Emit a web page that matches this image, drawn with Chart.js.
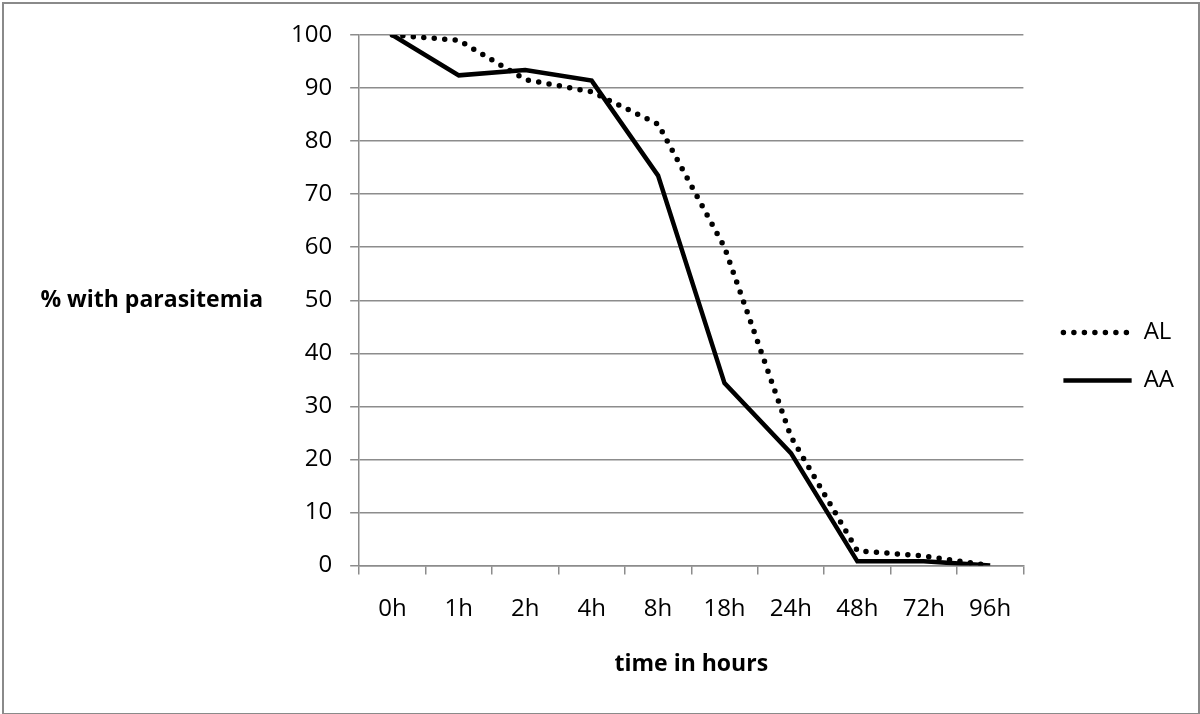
<!DOCTYPE html>
<html>
<head>
<meta charset="utf-8">
<script src="https://cdn.jsdelivr.net/npm/chart.js@4"></script>
<style>
  body { margin: 0; background: #fff; }
  #wrap { position: relative; width: 1200px; height: 714px; }
  #frame { position: absolute; left: 2px; top: 2px; width: 1194px; height: 709px;
           border: 2px solid #8a8a8a; pointer-events: none; }
</style>
</head>
<body>
<div id="wrap">
  <canvas id="c" width="1200" height="714"></canvas>
  <div id="frame"></div>
</div>
<script>
// data
const hours = ['0h', '1h', '2h', '4h', '8h', '18h', '24h', '48h', '72h', '96h'];
const alValues = [100, 99, 91.6, 89.3, 83.2, 60, 24.3, 2.8, 1.8, 0];
const aaValues = [100, 92.4, 93.4, 91.4, 73.5, 34.4, 21.2, 0.8, 0.8, 0];

const yTitle = '% with parasitemia';
const xTitle = 'time in hours';
const FONT = "'Open Sans', sans-serif";
const GRID = '#8c8c8c';
const DOT_GAP = 10.5;

// y axis title is horizontal in the original, so draw it by hand
const yTitlePlugin = {
    id: 'yTitle',
    afterDraw(chart) {
        const ctx = chart.ctx;
        const area = chart.chartArea;
        ctx.save();
        ctx.font = 'bold 23px ' + FONT;
        ctx.fillStyle = '#000';
        ctx.textAlign = 'right';
        ctx.textBaseline = 'middle';
        ctx.fillText(yTitle, area.left - 96, (area.top + area.bottom) / 2);
        ctx.restore();
    }
};

new Chart(document.getElementById('c'), {
    type: 'line',
    data: {
        labels: hours,
        datasets: [
            {
                label: 'AL',
                data: alValues,
                borderColor: '#000',
                backgroundColor: 'rgba(0,0,0,0)',
                borderWidth: 5.5,
                borderDash: [0, DOT_GAP],
                borderCapStyle: 'round',
                pointRadius: 0,
                tension: 0,
                order: 1
            },
            {
                label: 'AA',
                data: aaValues,
                borderColor: '#000',
                backgroundColor: 'rgba(0,0,0,0)',
                borderWidth: 4.5,
                borderCapStyle: 'butt',
                pointRadius: 0,
                tension: 0,
                order: 0
            }
        ]
    },
    options: {
        responsive: false,
        animation: false,
        devicePixelRatio: 1,
        layout: { padding: { left: 273, top: 35, right: 16, bottom: 36 } },
        plugins: {
            tooltip: { enabled: false },
            legend: {
                position: 'right',
                labels: {
                    // zero-height box = a line sample; width is a whole number of half dot periods
                    boxWidth: DOT_GAP * 6.5,
                    boxHeight: 0,
                    padding: 24,
                    color: '#000',
                    font: { family: FONT, size: 24 },
                    sort: (a, b) => a.datasetIndex - b.datasetIndex
                }
            }
        },
        scales: {
            x: {
                offset: true,
                grid: {
                    offset: true,
                    drawOnChartArea: false,
                    tickLength: 9,
                    tickColor: GRID,
                    lineWidth: 1.5
                },
                border: { color: GRID, width: 1.5 },
                ticks: {
                    color: '#000',
                    padding: 20,
                    maxRotation: 0,
                    font: { family: FONT, size: 24 }
                },
                title: {
                    display: true,
                    text: xTitle,
                    color: '#000',
                    font: { family: FONT, size: 23, weight: 'bold' },
                    padding: { top: 7, bottom: 0 }
                }
            },
            y: {
                min: 0,
                max: 100,
                ticks: {
                    stepSize: 10,
                    color: '#000',
                    padding: 18,
                    font: { family: FONT, size: 24 }
                },
                grid: {
                    color: GRID,
                    tickColor: GRID,
                    tickLength: 9,
                    lineWidth: 1.5
                },
                border: { color: GRID, width: 1.5 }
            },
            gap: {
                position: 'right',
                display: true,
                grid: { display: false },
                ticks: { display: false },
                border: { display: false },
                afterFit(scale) { scale.width = 16; }
            }
        }
    },
    plugins: [yTitlePlugin]
});
</script>
</body>
</html>
